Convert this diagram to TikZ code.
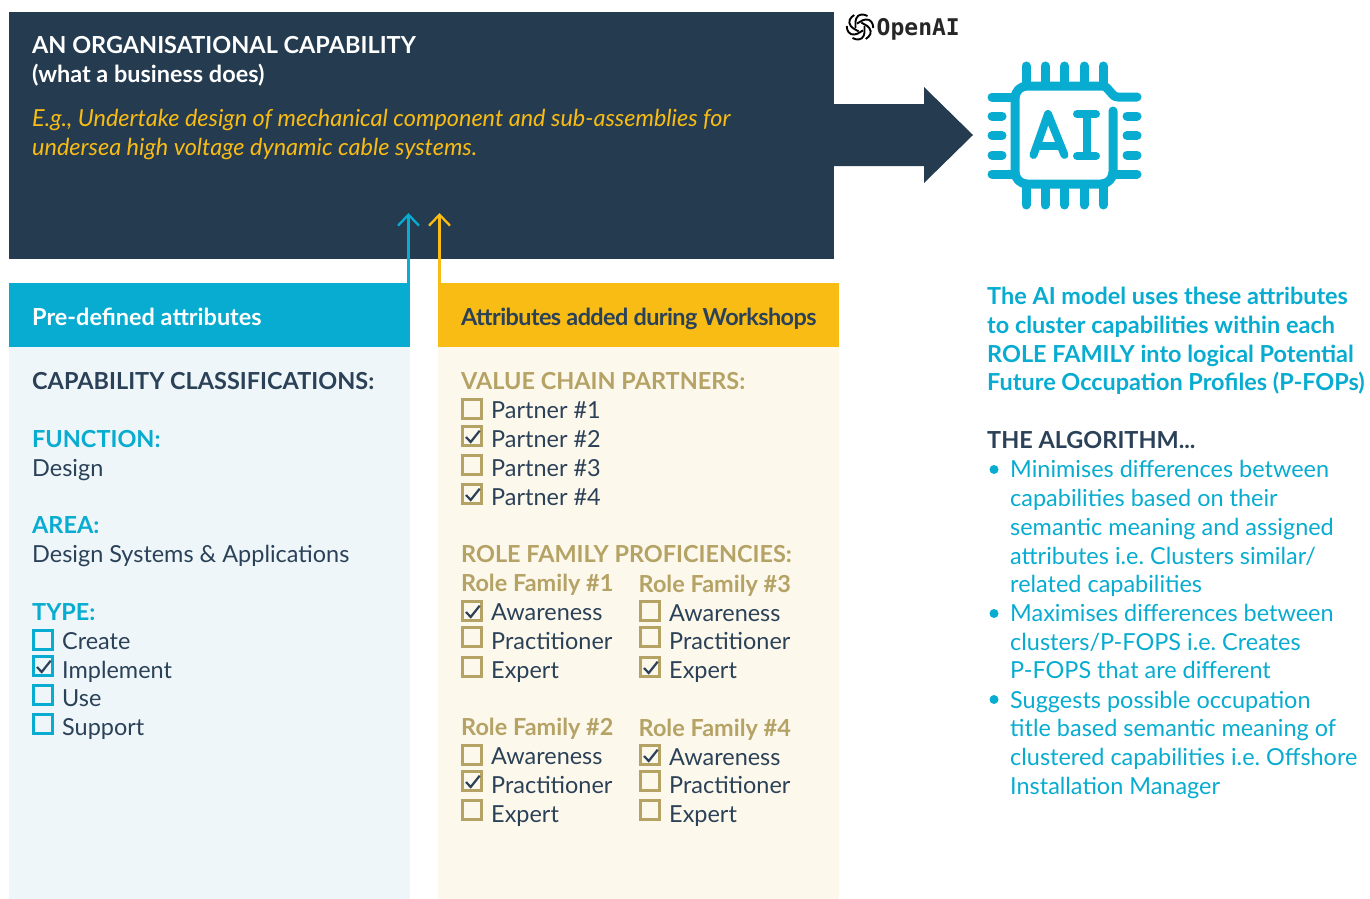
\documentclass[tikz,border=0pt]{standalone}
\usepackage{fontspec}
\setmainfont{Lato}
\newfontfamily\logofont{DejaVu Sans Mono}
\usetikzlibrary{arrows.meta}

\definecolor{navy}{HTML}{243B50}
\definecolor{inktxt}{HTML}{2B4158}
\definecolor{aicyan}{HTML}{07ACD0}
\definecolor{aiyellow}{HTML}{F8BC14}
\definecolor{palecyan}{HTML}{EEF6F9}
\definecolor{palecream}{HTML}{FDF8EC}
\definecolor{aitan}{HTML}{B5A265}

\tikzset{
  panel/.style={anchor=north west,inner sep=0pt,minimum width=#1},
  txt/.style={anchor=base west,inner sep=0pt,text=inktxt,font=\fontsize{23.45}{29}\selectfont},
  txtb/.style={txt,font=\fontsize{23.45}{29}\selectfont\bfseries},
  optbox/.style={draw=#1,line width=3pt,minimum size=19pt,inner sep=0pt},
  tickmark/.style={draw=inktxt,line width=2.2pt},
  thinarrow/.style={line width=2.3pt,-{Straight Barb[length=11pt,width=21pt,line width=2.3pt]}},
  chipline/.style={draw=aicyan,line width=9pt,line cap=round,line join=round},
  dotb/.style={circle,fill=aicyan,inner sep=0pt,minimum size=9pt},
}
% case a cocher : nom, x, y case, y texte, couleur, texte
\newcommand{\optrow}[6]{%
  \node[optbox=#5] (#1) at (#2,#3) {};
  \node[txt] (#1t) at (#2+19,#4) {#6};
}
\newcommand{\opttick}[1]{%
  \draw[tickmark] ([shift={(-6,1)}]#1.center) -- ++(4.7,5) -- ++(9,-11.3);
}

\begin{document}
\frenchspacing
\begin{tikzpicture}[x=1pt,y=-1pt]
\useasboundingbox (0,0) rectangle (1370,899);

%Les panneaux
\node[panel=825pt,minimum height=247pt,fill=navy] (capbox) at (9,12) {};
\node[panel=401pt,minimum height=552pt,fill=palecyan] (predefbody) at (9,347) {};
\node[panel=401pt,minimum height=64pt,fill=aicyan] (predefhead) at (9,283) {};
\node[panel=401pt,minimum height=552pt,fill=palecream] (workbody) at (438,347) {};
\node[panel=401pt,minimum height=64pt,fill=aiyellow] (workhead) at (438,283) {};

%Les fleches
\coordinate (cyanend) at (408.5,213);
\coordinate (yellowend) at (439.5,213);
\draw[thinarrow,aicyan] (predefhead.north -| cyanend) -- (cyanend);
\draw[thinarrow,aiyellow] (workhead.north -| yellowend) -- (yellowend);
\fill[navy] (capbox.center |- 0,104) -- (924,104) -- (924,87) -- (973,135) -- (924,183) -- (924,166) -- (capbox.center |- 0,166) -- cycle;

%Le cadre du haut
\node[txtb,text=white] (captitle) at (32,53) {AN ORGANISATIONAL CAPABILITY};
\node[txtb,text=white] (capsub) at (32,82) {(what a business does)};
\node[txt,text=aiyellow,font=\fontsize{23.45}{29}\selectfont\itshape] (capeg) at (32,126) {E.g., Undertake design of mechanical component and sub-assemblies for};
\node[txt,text=aiyellow,font=\fontsize{23.45}{29}\selectfont\itshape] (capegb) at (32,155) {undersea high voltage dynamic cable systems.};

%Le logo
\foreach \a in {0,60,...,300}{
  \draw[black,line width=1.9pt,rounded corners=3.5pt,rotate around={\a:(860,27)}] (855.5,28) -- (855.5,18) -- (861,13.5) -- (867.5,16);
}
\node[anchor=base west,inner sep=0pt,text=black!85,font=\fontsize{23}{26}\selectfont\logofont\bfseries] (openai) at (876.5,36) {OpenAI};

%La puce
\draw[chipline] (1137,97) -- (1118,97) to[out=180,in=0] (1102,86) -- (1027,86) to[out=180,in=90] (1015,98) -- (1015,172) to[out=-90,in=180] (1027,184) -- (1101,184) to[out=0,in=-90] (1113,172) -- (1113,111);
\foreach \x in {1026,1045,1064.5,1084,1103}{
  \draw[chipline] (\x,66) -- (\x,84);
  \draw[chipline] (\x,186) -- (\x,205);
}
\draw[chipline] (992,97) -- (1013,97);
\draw[chipline] (992,174) -- (1013,174);
\draw[chipline] (1137,174) -- (1115,174);
\foreach \y in {116,135.5,155}{
  \draw[chipline] (992,\y) -- (1002,\y);
  \draw[chipline] (1127,\y) -- (1137,\y);
}
\draw[chipline,line width=8pt] (1033.5,155) -- (1048,114) -- (1064.5,155);
\draw[chipline,line width=8pt] (1039,146) -- (1059,146);
\draw[chipline,line width=8pt] (1077,114) -- (1096,114);
\draw[chipline,line width=8pt] (1077,156) -- (1096,156);
\draw[chipline,line width=8pt] (1086.5,114) -- (1086.5,156);

%Les attributs predefinis
\node[txtb,text=white] (predeft) at (32,325) {Pre-defined attributes};
\node[txtb] (classt) at (32,389) {CAPABILITY CLASSIFICATIONS:};
\node[txtb,text=aicyan] (funct) at (32,447) {FUNCTION:};
\node[txt] (funcv) at (32,476) {Design};
\node[txtb,text=aicyan] (areat) at (32,533) {AREA:};
\node[txt] (areav) at (32,562) {Design Systems \& Applications};
\node[txtb,text=aicyan] (typet) at (32,620) {TYPE:};
\optrow{ty1}{43}{640}{649}{aicyan}{Create}
\optrow{ty2}{43}{666}{678}{aicyan}{Implement}
\optrow{ty3}{43}{695}{706}{aicyan}{Use}
\optrow{ty4}{43}{724}{735}{aicyan}{Support}
\opttick{ty2}

%Les attributs des ateliers
\node[txtb] (workt) at (461,325) {\addfontfeature{LetterSpace=-2.5}Attributes added during Workshops};
\node[txtb,text=aitan] (valuet) at (461,389) {VALUE CHAIN PARTNERS:};
\optrow{pa1}{472}{409}{418}{aitan}{Partner \#1}
\optrow{pa2}{472}{436}{447}{aitan}{Partner \#2}
\optrow{pa3}{472}{465}{476}{aitan}{Partner \#3}
\optrow{pa4}{472}{494}{505}{aitan}{Partner \#4}
\opttick{pa2}
\opttick{pa4}
\node[txtb,text=aitan] (rolet) at (461,562) {ROLE FAMILY PROFICIENCIES:};

\node[txtb,text=aitan] (rf1) at (461,591) {Role Family \#1};
\optrow{ra1}{472}{611}{620}{aitan}{Awareness}
\optrow{ra2}{472}{637}{649}{aitan}{Practitioner}
\optrow{ra3}{472}{667}{678}{aitan}{Expert}
\opttick{ra1}
\node[txtb,text=aitan] (rf3) at (638.5,592) {Role Family \#3};
\optrow{rc1}{650}{611}{621}{aitan}{Awareness}
\optrow{rc2}{650}{637}{649}{aitan}{Practitioner}
\optrow{rc3}{650}{667}{678}{aitan}{Expert}
\opttick{rc3}
\node[txtb,text=aitan] (rf2) at (461,735) {Role Family \#2};
\optrow{rb1}{472}{755}{764}{aitan}{Awareness}
\optrow{rb2}{472}{781}{793}{aitan}{Practitioner}
\optrow{rb3}{472}{810}{822}{aitan}{Expert}
\opttick{rb2}
\node[txtb,text=aitan] (rf4) at (638.5,736) {Role Family \#4};
\optrow{rd1}{650}{755}{765}{aitan}{Awareness}
\optrow{rd2}{650}{781}{793}{aitan}{Practitioner}
\optrow{rd3}{650}{810}{822}{aitan}{Expert}
\opttick{rd1}

%La colonne de droite
\foreach \n/\y/\t in {1/304/{The AI model uses these attributes},2/333/{to cluster capabilities within each},3/362/{ROLE FAMILY into logical Potential},4/390/{Future Occupation Profiles (P-FOPs)}}{
  \node[txtb,text=aicyan] (intro\n) at (987,\y) {\t};
}
\node[txtb] (algot) at (987,448) {THE ALGORITHM...};
\node[dotb] (dot1) at (994,469.5) {};
\node[dotb] (dot2) at (994,613.5) {};
\node[dotb] (dot3) at (994,699.5) {};
\foreach \n/\y/\t in {1/477/{Minimises differences between},2/506/{capabilities based on their},3/535/{semantic meaning and assigned},4/564/{attributes i.e. Clusters similar/},5/592/{related capabilities},6/621/{Maximises differences between},7/650/{clusters/P-FOPS i.e. Creates},8/678/{P-FOPS that are different},9/708/{Suggests possible occupation},10/736/{title based semantic meaning of},11/765/{clustered capabilities i.e. Offshore},12/794/{Installation Manager}}{
  \node[txt,text=aicyan] (algo\n) at (1010,\y) {\t};
}

\end{tikzpicture}
\end{document}
